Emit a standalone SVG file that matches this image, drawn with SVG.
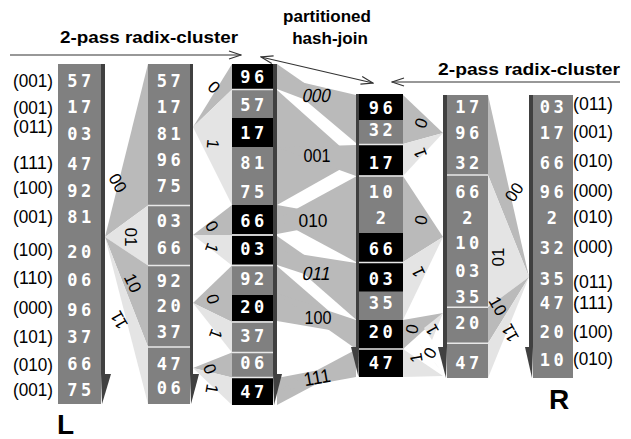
<svg xmlns="http://www.w3.org/2000/svg" width="631" height="439" viewBox="0 0 631 439">
<defs>
<style>
.lbl{font-family:"Liberation Sans",Arial,sans-serif;font-size:18px;fill:#000}
.num{font-family:"DejaVu Sans Mono",monospace;font-weight:bold;font-size:17px;fill:#fff;text-anchor:middle;letter-spacing:3.5px}
.fl{font-family:"Liberation Sans",Arial,sans-serif;font-size:17px;fill:#000;text-anchor:middle}
.jl{font-family:"Liberation Sans",Arial,sans-serif;font-size:19px;fill:#000;text-anchor:middle}
.ttl{font-family:"Liberation Sans",Arial,sans-serif;font-weight:bold;font-size:17px;fill:#000}
.big{font-family:"Liberation Sans",Arial,sans-serif;font-weight:bold;font-size:28px;fill:#000}
.col{fill:#808080}
.blk{fill:#000}
.sh{fill:#404040}
.sep{stroke:#e8e8e8;stroke-width:1.5}
.m{fill:#bababa}
.l{fill:#e4e4e4}
.arr{stroke:#333;stroke-width:1.2;fill:none}
</style>
<marker id="ah" markerWidth="14" markerHeight="10" refX="13" refY="5" orient="auto-start-reverse" markerUnits="userSpaceOnUse">
<path d="M1,1 L13,5 L1,9" fill="none" stroke="#333" stroke-width="1.2"/>
</marker>
</defs>
<rect width="631" height="439" fill="#fff"/>

<g id="connectors">
<!-- L pass 1 -->
<polygon class="m" points="105,237 148,64 148,205.5"/>
<polygon class="l" points="105,237 148,205.5 148,265.5"/>
<polygon class="m" points="105,237 148,265.5 148,347"/>
<polygon class="l" points="105,237 148,347 148,404"/>
<!-- L pass 2 -->
<polygon class="m" points="193,127 232,64 232,89.5"/>
<polygon class="l" points="193,127 232,89.5 232,205"/>
<polygon class="m" points="193,235 232,205 232,235"/>
<polygon class="l" points="193,235 232,235 232,265.5"/>
<polygon class="m" points="193,303 232,265.5 232,322"/>
<polygon class="l" points="193,303 232,322 232,352.5"/>
<polygon class="m" points="193,368 232,352.5 232,377.5"/>
<polygon class="l" points="193,368 232,377.5 232,405"/>
<!-- hash join -->
<polygon class="m" points="277,64 277,89 356,119"/>
<polygon class="m" points="356,95 356,143 277,76.5"/>
<polygon class="m" points="277,90 277,205 356,160.5"/>
<polygon class="m" points="356,145 356,176 277,147.5"/>
<polygon class="m" points="277,205 277,234 356,219"/>
<polygon class="m" points="356,176.5 356,262 277,219.5"/>
<polygon class="m" points="277,236 277,265 356,291"/>
<polygon class="m" points="356,263 356,319.5 277,250.5"/>
<polygon class="m" points="277,266 277,321 356,334.5"/>
<polygon class="m" points="356,320 356,349 277,293.5"/>
<polygon class="m" points="277,378 277,405 356,363"/>
<polygon class="m" points="356,349.5 356,377 277,391.5"/>
<!-- R pass 2 -->
<polygon class="m" points="443,133 403,95 403,144"/>
<polygon class="l" points="443,133 403,144 403,176"/>
<polygon class="m" points="443,237 403,176 403,262"/>
<polygon class="l" points="443,237 403,262 403,320"/>
<polygon class="m" points="443,313 403,320 403,349"/>
<polygon class="l" points="443,313 424,328 432,340"/>
<polygon class="m" points="443,373 418,342 426,352"/>
<polygon class="l" points="443,376 403,349 403,377"/>
<!-- R pass 1 -->
<polygon class="m" points="529,277 488,95 488,175"/>
<polygon class="l" points="529,277 488,175 488,307.3"/>
<polygon class="m" points="529,277 488,307.3 488,343.3"/>
<polygon class="l" points="529,277 488,343.3 488,378"/>
<!-- arrows -->
<line class="arr" x1="10" y1="55" x2="241" y2="55" marker-end="url(#ah)"/>
<line class="arr" x1="620" y1="82" x2="392" y2="82" marker-end="url(#ah)"/>
<line class="arr" x1="261" y1="57" x2="373" y2="83" marker-start="url(#ah)" marker-end="url(#ah)"/>
<!-- fan labels -->
<text class="fl" transform="translate(118,183) rotate(60)" y="6">00</text>
<text class="fl" transform="translate(131,237) rotate(90)" y="6">01</text>
<text class="fl" transform="translate(133,283) rotate(65)" y="6">10</text>
<text class="fl" transform="translate(119,320) rotate(-120)" y="6">11</text>
<text class="fl" transform="translate(214,87) rotate(45)" y="6">0</text>
<text class="fl" transform="translate(213,144) rotate(95)" y="6">1</text>
<text class="fl" transform="translate(212,226) rotate(60)" y="6">0</text>
<text class="fl" transform="translate(212,248) rotate(110)" y="6">1</text>
<text class="fl" transform="translate(213,299) rotate(75)" y="6">0</text>
<text class="fl" transform="translate(216,334) rotate(110)" y="6">1</text>
<text class="fl" transform="translate(210,369) rotate(70)" y="6">0</text>
<text class="fl" transform="translate(212,389) rotate(100)" y="6">1</text>
<text class="jl" transform="translate(317,95) skewX(-12)" y="7" textLength="28" lengthAdjust="spacingAndGlyphs">000</text>
<text class="jl" transform="translate(317,155)" y="7" textLength="27" lengthAdjust="spacingAndGlyphs">001</text>
<text class="jl" transform="translate(313,220)" y="7" textLength="29" lengthAdjust="spacingAndGlyphs">010</text>
<text class="jl" transform="translate(317,273) skewX(-12)" y="7" textLength="28" lengthAdjust="spacingAndGlyphs">011</text>
<text class="jl" transform="translate(318,317)" y="7" textLength="27" lengthAdjust="spacingAndGlyphs">100</text>
<text class="jl" transform="translate(317,377) rotate(-10)" y="7" textLength="27" lengthAdjust="spacingAndGlyphs">111</text>
<text class="fl" transform="translate(421,123) rotate(-70)" y="6">0</text>
<text class="fl" transform="translate(420,153) rotate(-110)" y="6">1</text>
<text class="fl" transform="translate(421,220) rotate(-80)" y="6">0</text>
<text class="fl" transform="translate(418,272) rotate(-115)" y="6">1</text>
<text class="fl" transform="translate(412,329) rotate(-80)" y="6">0</text>
<text class="fl" transform="translate(432,330) rotate(-120)" y="6">1</text>
<text class="fl" transform="translate(416,358) rotate(-100)" y="6">1</text>
<text class="fl" transform="translate(430,353) rotate(-60)" y="6">0</text>
<text class="fl" transform="translate(514,192) rotate(-55)" y="6">00</text>
<text class="fl" transform="translate(498,257) rotate(-90)" y="6">01</text>
<text class="fl" transform="translate(498,306) rotate(60)" y="6">10</text>
<text class="fl" transform="translate(510,333) rotate(-120)" y="6">11</text>
</g>

<g id="titles">
<text class="ttl" x="60" y="43" textLength="178" lengthAdjust="spacingAndGlyphs">2-pass radix-cluster</text>
<text class="ttl" x="438" y="75" textLength="182" lengthAdjust="spacingAndGlyphs">2-pass radix-cluster</text>
<text class="ttl" x="327" y="22" text-anchor="middle">partitioned</text>
<text class="ttl" x="330" y="44" text-anchor="middle">hash-join</text>
<text class="big" x="57" y="434">L</text>
<text class="big" x="549" y="409">R</text>
</g>

<g id="col-L">
<rect class="col" x="58" y="64" width="43" height="340"/>
<rect class="sh" x="101" y="64" width="4" height="310"/>
<polygon class="sh" points="101,374 111,374 102,404"/>
<g class="num">
<text x="81" y="87">57</text><text x="81" y="113">17</text><text x="81" y="140">03</text><text x="81" y="170">47</text><text x="81" y="197">92</text><text x="81" y="223">81</text><text x="81" y="258">20</text><text x="81" y="286">06</text><text x="81" y="316">96</text><text x="81" y="343">37</text><text x="81" y="370">66</text><text x="81" y="396">75</text>
</g>
<g class="lbl">
<text x="13" y="87" textLength="40" lengthAdjust="spacingAndGlyphs">(001)</text><text x="13" y="114" textLength="40" lengthAdjust="spacingAndGlyphs">(001)</text><text x="13" y="133" textLength="40" lengthAdjust="spacingAndGlyphs">(011)</text><text x="13" y="169" textLength="40" lengthAdjust="spacingAndGlyphs">(111)</text><text x="13" y="194" textLength="40" lengthAdjust="spacingAndGlyphs">(100)</text><text x="13" y="223" textLength="40" lengthAdjust="spacingAndGlyphs">(001)</text><text x="13" y="256" textLength="40" lengthAdjust="spacingAndGlyphs">(100)</text><text x="13" y="284" textLength="40" lengthAdjust="spacingAndGlyphs">(110)</text><text x="13" y="314" textLength="40" lengthAdjust="spacingAndGlyphs">(000)</text><text x="13" y="343" textLength="40" lengthAdjust="spacingAndGlyphs">(101)</text><text x="13" y="371" textLength="40" lengthAdjust="spacingAndGlyphs">(010)</text><text x="13" y="396" textLength="40" lengthAdjust="spacingAndGlyphs">(001)</text>
</g>
</g>

<g id="col-L1">
<rect class="col" x="148" y="64" width="42" height="340"/>
<rect class="sh" x="190" y="64" width="3" height="310"/>
<polygon class="sh" points="190,374 199,374 191,404"/>
<line class="sep" x1="148" y1="205.5" x2="190" y2="205.5"/>
<line class="sep" x1="148" y1="265.5" x2="190" y2="265.5"/>
<line class="sep" x1="148" y1="347" x2="190" y2="347"/>
<g class="num">
<text x="170.5" y="87">57</text><text x="170.5" y="113">17</text><text x="170.5" y="140">81</text><text x="170.5" y="166">96</text><text x="170.5" y="192">75</text><text x="170.5" y="227">03</text><text x="170.5" y="254">66</text><text x="170.5" y="287">92</text><text x="170.5" y="312">20</text><text x="170.5" y="338">37</text><text x="170.5" y="370">47</text><text x="170.5" y="394">06</text>
</g>
</g>

<g id="col-L2">
<rect class="col" x="232" y="64" width="41" height="341"/>
<rect class="sh" x="273" y="64" width="4" height="310"/>
<polygon class="sh" points="273,374 282,374 274,405"/>
<rect class="blk" x="232" y="64" width="41" height="25"/>
<rect class="blk" x="232" y="118" width="41" height="29"/>
<rect class="blk" x="232" y="205" width="41" height="29"/>
<rect class="blk" x="232" y="236" width="41" height="28.5"/>
<rect class="blk" x="232" y="295" width="41" height="26"/>
<rect class="blk" x="232" y="378" width="41" height="27"/>
<line class="sep" x1="232" y1="89.5" x2="273" y2="89.5"/>
<line class="sep" x1="232" y1="235" x2="273" y2="235"/>
<line class="sep" x1="232" y1="265.5" x2="273" y2="265.5"/>
<line class="sep" x1="232" y1="322" x2="273" y2="322"/>
<line class="sep" x1="232" y1="352.5" x2="273" y2="352.5"/>
<line class="sep" x1="232" y1="377.5" x2="273" y2="377.5"/>
<g class="num">
<text x="254" y="83">96</text><text x="254" y="111">57</text><text x="254" y="139">17</text><text x="254" y="169">81</text><text x="254" y="198">75</text><text x="254" y="227">66</text><text x="254" y="255">03</text><text x="254" y="285">92</text><text x="254" y="313">20</text><text x="254" y="342">37</text><text x="254" y="369">06</text><text x="254" y="398">47</text>
</g>
</g>

<g id="col-R2">
<rect class="col" x="359" y="94" width="44" height="283"/>
<rect class="sh" x="356" y="94" width="3" height="253"/>
<polygon class="sh" points="351,347 359,347 358.5,377"/>
<rect class="blk" x="359" y="94" width="44" height="26"/>
<rect class="blk" x="359" y="145" width="44" height="30.5"/>
<rect class="blk" x="359" y="233" width="44" height="29"/>
<rect class="blk" x="359" y="263" width="44" height="28.5"/>
<rect class="blk" x="359" y="320" width="44" height="57"/>
<line class="sep" x1="359" y1="144.5" x2="403" y2="144.5"/>
<line class="sep" x1="359" y1="176" x2="403" y2="176"/>
<line class="sep" x1="359" y1="262.5" x2="403" y2="262.5"/>
<line class="sep" x1="359" y1="349" x2="403" y2="349"/>
<g class="num">
<text x="382.5" y="114">96</text><text x="382.5" y="136">32</text><text x="382.5" y="169">17</text><text x="382.5" y="198">10</text><text x="382.5" y="224">2</text><text x="382.5" y="255">66</text><text x="382.5" y="285">03</text><text x="382.5" y="309">35</text><text x="382.5" y="338">20</text><text x="382.5" y="369">47</text>
</g>
</g>

<g id="col-R1">
<rect class="col" x="447" y="95" width="41" height="283"/>
<rect class="sh" x="443" y="95" width="4" height="252"/>
<polygon class="sh" points="438,347 447,347 446,378"/>
<line class="sep" x1="447" y1="175" x2="488" y2="175"/>
<line class="sep" x1="447" y1="307.3" x2="488" y2="307.3"/>
<line class="sep" x1="447" y1="343.3" x2="488" y2="343.3"/>
<g class="num">
<text x="469" y="113">17</text><text x="469" y="139">96</text><text x="469" y="169">32</text><text x="469" y="198">66</text><text x="469" y="224">2</text><text x="469" y="249">10</text><text x="469" y="277">03</text><text x="469" y="303">35</text><text x="469" y="329">20</text><text x="469" y="369">47</text>
</g>
</g>

<g id="col-R">
<rect class="col" x="533" y="95" width="40" height="283"/>
<rect class="sh" x="529" y="95" width="4" height="252"/>
<polygon class="sh" points="525,347 533,347 532,378"/>
<g class="num">
<text x="553.5" y="113">03</text><text x="553.5" y="139">17</text><text x="553.5" y="169">66</text><text x="553.5" y="198">96</text><text x="553.5" y="224">2</text><text x="553.5" y="254">32</text><text x="553.5" y="285">35</text><text x="553.5" y="309">47</text><text x="553.5" y="338">20</text><text x="553.5" y="366">10</text>
</g>
<g class="lbl">
<text x="573" y="110" textLength="40" lengthAdjust="spacingAndGlyphs">(011)</text><text x="573" y="138" textLength="40" lengthAdjust="spacingAndGlyphs">(001)</text><text x="573" y="167" textLength="40" lengthAdjust="spacingAndGlyphs">(010)</text><text x="573" y="197" textLength="40" lengthAdjust="spacingAndGlyphs">(000)</text><text x="573" y="223" textLength="40" lengthAdjust="spacingAndGlyphs">(010)</text><text x="573" y="253" textLength="40" lengthAdjust="spacingAndGlyphs">(000)</text><text x="573" y="288" textLength="40" lengthAdjust="spacingAndGlyphs">(011)</text><text x="573" y="309" textLength="40" lengthAdjust="spacingAndGlyphs">(111)</text><text x="573" y="338" textLength="40" lengthAdjust="spacingAndGlyphs">(100)</text><text x="573" y="365" textLength="40" lengthAdjust="spacingAndGlyphs">(010)</text>
</g>
</g>
</svg>
